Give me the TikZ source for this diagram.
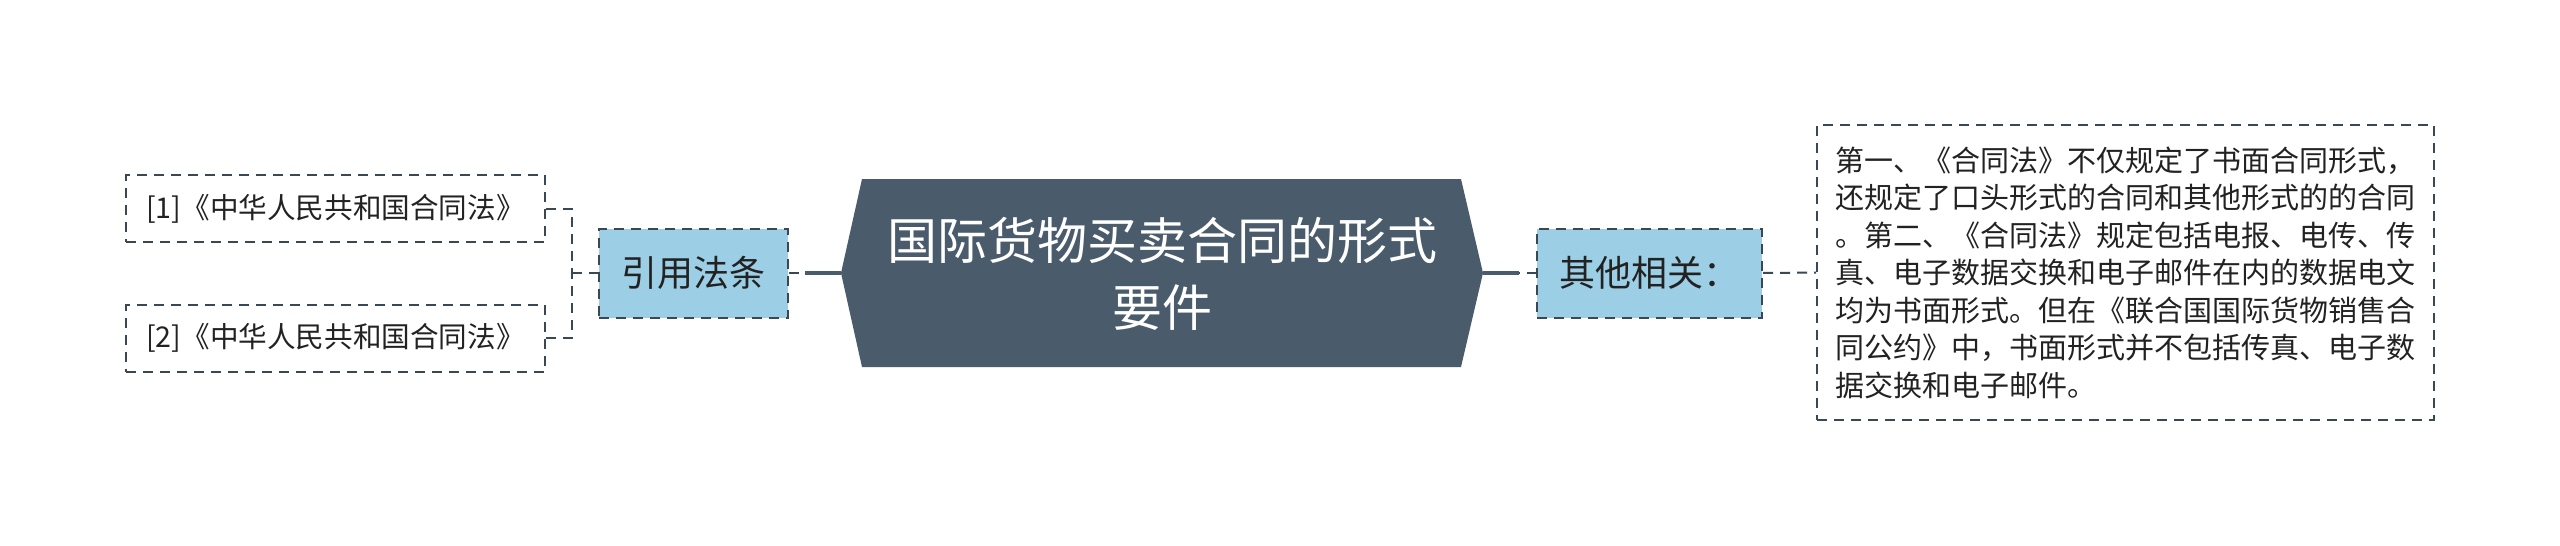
\documentclass[tikz,border=0pt]{standalone}
\usepackage{fontspec}
\setmainfont{Noto Sans CJK SC}
\definecolor{mainc}{HTML}{4A5C6C}
\definecolor{subc}{HTML}{9CCFE6}
\definecolor{linec}{HTML}{3A4856}
\definecolor{txt}{HTML}{222222}
\begin{document}
\begin{tikzpicture}[x=0.5pt,y=-0.5pt,
  dashbox/.style={draw=linec,line width=1pt,dash pattern=on 5pt off 3.5pt,inner sep=0pt,text=txt},
  leaf/.style={dashbox,minimum width=209.5pt,minimum height=33.5pt,font=\fontsize{14.3pt}{17pt}\selectfont},
  sub/.style={dashbox,fill=subc,minimum height=44.5pt,font=\fontsize{18pt}{22pt}\selectfont},
  dashline/.style={draw=linec,line width=1pt,dash pattern=on 5pt off 3.5pt},
  solidline/.style={draw=mainc,line width=2pt}]
\useasboundingbox (0,0) rectangle (2560,546);
\fill[white] (0,0) rectangle (2560,546);
% central hexagon
\fill[mainc] (841,273) -- (862,179) -- (1461,179) -- (1483,273) -- (1461,367) -- (862,367) -- cycle;
\node[text=white,align=center,font=\fontsize{25pt}{33.5pt}\selectfont] (main) at (1162,273.5) {国际货物买卖合同的形式\\要件};
\coordinate (mL) at (841,273);
\coordinate (mR) at (1483,273);
% nodes
\node[leaf] (b1) at (335.5,208.5) {[1]《中华人民共和国合同法》};
\node[leaf] (b2) at (335.5,338) {[2]《中华人民共和国合同法》};
\node[sub,minimum width=94.5pt] (cite) at (693.5,273) {引用法条};
\node[sub,minimum width=112.5pt] (other) at (1649.5,273) {其他相关：};
\node[dashbox,minimum width=308.5pt,minimum height=147.5pt,align=left,font=\fontsize{14.5pt}{18.75pt}\selectfont] (desc) at (2125.5,272.5) {第一、《合同法》不仅规定了书面合同形式，\\还规定了口头形式的合同和其他形式的的合同\\。第二、《合同法》规定包括电报、电传、传\\真、电子数据交换和电子邮件在内的数据电文\\均为书面形式。但在《联合国国际货物销售合\\同公约》中，书面形式并不包括传真、电子数\\据交换和电子邮件。};
% connectors
\coordinate (jn) at (572,273);
\draw[dashline] (b1.east) -| (jn);
\draw[dashline] (b2.east) -| (jn);
\draw[dashline] (jn) -- (cite.west);
\coordinate (s1) at (805,273);
\draw[dashline] (cite.east) -- (s1);
\draw[solidline] (s1) -- (mL);
\coordinate (s2) at (1519,273);
\draw[solidline] (mR) -- (s2);
\draw[dashline,dash phase=4.5pt] (s2) -- (other.west);
\draw[dashline] (other.east) -- (desc.west);
\end{tikzpicture}
\end{document}
